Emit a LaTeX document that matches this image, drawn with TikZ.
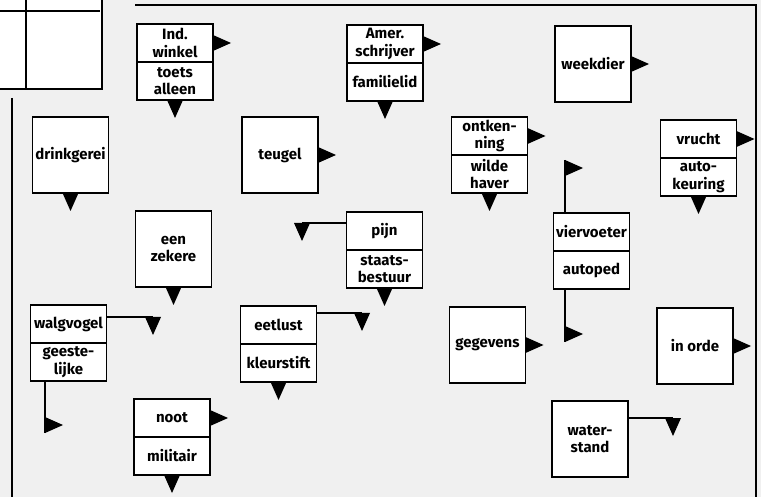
\documentclass[tikz,border=0pt]{standalone}
\usepackage{fontspec}
\setmainfont{Fira Sans}
\usetikzlibrary{positioning}
\newcommand\cluefont{\bfseries\fontsize{15}{17.5}\selectfont}
\tikzset{
	cell/.style={draw, line width=1.4pt, fill=white, outer sep=0pt, inner sep=1pt, align=center,
		minimum width=76pt, minimum height=76pt, font=\cluefont},
	half/.style={cell, minimum height=38pt},
	conn/.style={line width=1.4pt},
	pics/pr/.style={code={\fill (0,-8) -- (18,0) -- (0,8) -- cycle;}},
	pics/pd/.style={code={\fill (-8,0) -- (8,0) -- (0,18) -- cycle;}},
}

\begin{document}
\begin{tikzpicture}[x=1pt, y=-1pt]
			%%%%% START %%%%%
			\useasboundingbox (0,0) rectangle (761,497);
			\fill[black!6] (0,0) rectangle (761,497);
			
			\fill[white] (0,0) rectangle (102,89);
			\draw[conn] (0,89) -- (102,89) -- (102,0);
			\draw[conn] (26,0) -- (26,89);
			\draw[conn] (0,11) -- (100,11);
			
			\draw[conn] (135,5) -- (756,5) -- (756,497);
			\draw[conn] (12,98) -- (12,497);
			
			% row 1
			\node[half] (ind) at (175,43) {Ind.\\winkel};
			\node[half, below=0pt of ind] (toets) {toets\\alleen};
			\pic at (ind.east) {pr};
			\pic at (toets.south) {pd};
			
			\node[half] (amer) at (385,44) {Amer.\\schrijver};
			\node[half, below=0pt of amer] (fam) {familielid};
			\pic at (amer.east) {pr};
			\pic at (fam.south) {pd};
			
			\node[cell] (week) at (593,64) {weekdier};
			\pic at (week.east) {pr};
			
			% row 2
			\node[cell] (drink) at (70.5,155) {drinkgerei};
			\pic at (drink.south) {pd};
			
			\node[cell] (teugel) at (280,155) {teugel};
			\pic at (teugel.east) {pr};
			
			\node[half] (ontk) at (489.5,136) {ontken-\\ning};
			\node[half, below=0pt of ontk] (haver) {wilde\\haver};
			\pic at (ontk.east) {pr};
			\pic at (haver.south) {pd};
			
			\node[half] (vrucht) at (698.5,139) {vrucht};
			\node[half, below=0pt of vrucht] (keur) {auto-\\keuring};
			\pic at (vrucht.east) {pr};
			\pic at (keur.south) {pd};
			
			% row 3
			\node[cell] (zeker) at (173.5,249) {een\\zekere};
			\pic at (zeker.south) {pd};
			
			\node[half] (pijn) at (384.5,231) {pijn};
			\node[half, below=0pt of pijn] (staat) {staats-\\bestuur};
			\coordinate (pijnL) at (302,223);
			\draw[conn] (pijn.west |- pijnL) -- (pijnL);
			\pic at (pijnL) {pd};
			\pic at (staat.south) {pd};
			
			\node[half] (vier) at (591.5,232) {viervoeter};
			\node[half, below=0pt of vier] (autop) {autoped};
			\coordinate (vierU) at (565,160);
			\coordinate (vierD) at (565,342);
			\draw[conn] (vierU |- vier.north) -- (vierU);
			\pic at ([yshift=-8pt]vierU) {pr};
			\draw[conn] (vierD |- autop.south) -- (vierD);
			\pic at ([yshift=8pt]vierD) {pr};
			
			% row 4
			\node[half] (walg) at (68.5,324) {walgvogel};
			\node[half, below=0pt of walg] (geest) {geeste-\\lijke};
			\coordinate (walgR) at (153,317);
			\draw[conn] (walg.east |- walgR) -- (walgR);
			\pic at (walgR) {pd};
			\coordinate (geestD) at (45,433);
			\draw[conn] (geestD |- geest.south) -- (geestD);
			\pic at ([yshift=8pt]geestD) {pr};
			
			\node[half] (eet) at (278.5,325) {eetlust};
			\node[half, below=0pt of eet] (kleur) {kleurstift};
			\coordinate (eetR) at (362,313);
			\draw[conn] (eet.east |- eetR) -- (eetR);
			\pic at (eetR) {pd};
			\pic at (kleur.south) {pd};
			
			\node[cell] (gegev) at (487.5,345) {gegevens};
			\pic at (gegev.east) {pr};
			
			\node[cell] (orde) at (695,346) {in orde};
			\pic at (orde.east) {pr};
			
			% row 5
			\node[half] (noot) at (172,418) {noot};
			\node[half, below=0pt of noot] (mil) {militair};
			\pic at (noot.east) {pr};
			\pic at (mil.south) {pd};
			
			\node[cell] (water) at (590,439) {water-\\stand};
			\coordinate (waterR) at (673,418);
			\draw[conn] (water.east |- waterR) -- (waterR);
			\pic at (waterR) {pd};
			
			%%%%% END %%%%%
		\end{tikzpicture}
\end{document}
